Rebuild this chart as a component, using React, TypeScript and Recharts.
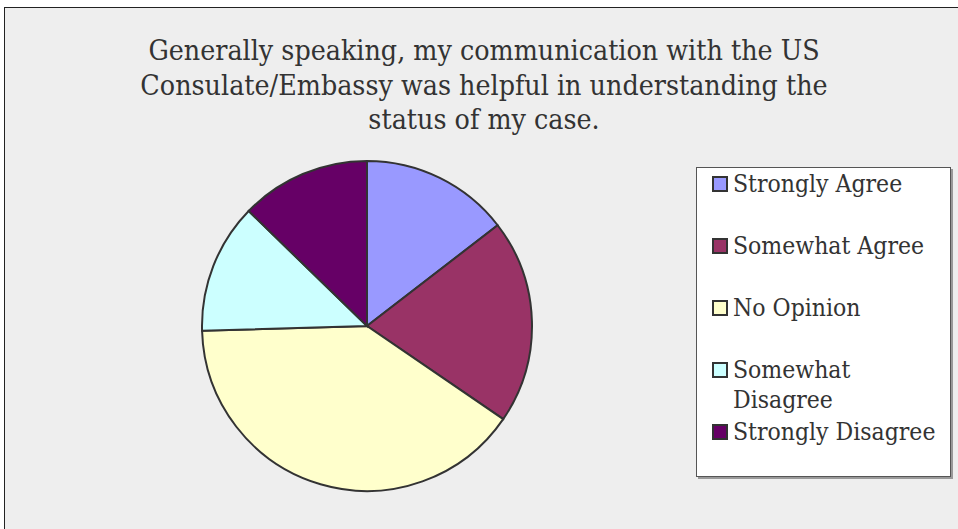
import { PieChart, Pie, Cell, Legend } from 'recharts';

const categories = ['Strongly Agree', 'Somewhat Agree', 'No Opinion', 'Somewhat Disagree', 'Strongly Disagree'];
const responses = [8, 11, 22, 7, 7];
const colors = ['#9999FF', '#993366', '#FFFFCC', '#CCFFFF', '#660066'];
const titleLines = [
    'Generally speaking, my communication with the US',
    'Consulate/Embassy was helpful in understanding the',
    'status of my case.',
];

const data = categories.map((name, i) => ({ name, value: responses[i] }));

const FONT = '"DejaVu Serif", serif';

// recharts sorts legend payload by name, so draw it in category order
function renderLegend() {
    return (
        <div
            style={{
                position: 'relative',
                width: 255,
                height: 310,
                background: '#fff',
                border: '1px solid #555',
                boxShadow: '2px 2px 0 #999',
                boxSizing: 'border-box',
                fontFamily: FONT,
                fontStretch: 'condensed',
                fontSize: 24.5,
                color: '#333',
            }}
        >
            {categories.map((name, i) => (
                <div
                    key={name}
                    style={{
                        position: 'absolute',
                        left: 15,
                        top: 1 + i * 62,
                        display: 'flex',
                        alignItems: 'flex-start',
                    }}
                >
                    <span
                        style={{
                            width: 12,
                            height: 12,
                            marginTop: 7,
                            border: '2px solid #333',
                            background: colors[i],
                            flexShrink: 0,
                        }}
                    />
                    <span style={{ marginLeft: 5, maxWidth: 214, lineHeight: '30px' }}>{name}</span>
                </div>
            ))}
        </div>
    );
}

export default function App() {
    return (
        <div style={{ position: 'absolute', left: 0, top: 0, width: 958, height: 529, background: '#fff', overflow: 'hidden' }}>
            <div
                style={{
                    position: 'absolute',
                    left: 4,
                    top: 7,
                    width: 970,
                    height: 540,
                    background: '#EEEEEE',
                    border: '1px solid #222',
                }}
            />
            <div
                style={{
                    position: 'absolute',
                    left: 0,
                    top: 34,
                    width: 968,
                    textAlign: 'center',
                    fontFamily: FONT,
                    fontStretch: 'condensed',
                    fontSize: 28.3,
                    lineHeight: '34.5px',
                    color: '#333',
                }}
            >
                {titleLines.map((t) => (
                    <div key={t}>{t}</div>
                ))}
            </div>
            <div style={{ position: 'absolute', left: 0, top: 0 }}>
                <PieChart width={958} height={529} margin={{ top: 0, right: 0, bottom: 0, left: 0 }}>
                    <Pie
                        data={data}
                        dataKey="value"
                        nameKey="name"
                        cx={367}
                        cy={326}
                        outerRadius={165}
                        startAngle={90}
                        endAngle={-270}
                        stroke="#333"
                        strokeWidth={2}
                        isAnimationActive={false}
                    >
                        {data.map((d, i) => (
                            <Cell key={d.name} fill={colors[i]} />
                        ))}
                    </Pie>
                    <Legend
                        layout="vertical"
                        content={renderLegend}
                        wrapperStyle={{ position: 'absolute', left: 696, top: 167, width: 255, height: 310 }}
                    />
                </PieChart>
            </div>
        </div>
    );
}
